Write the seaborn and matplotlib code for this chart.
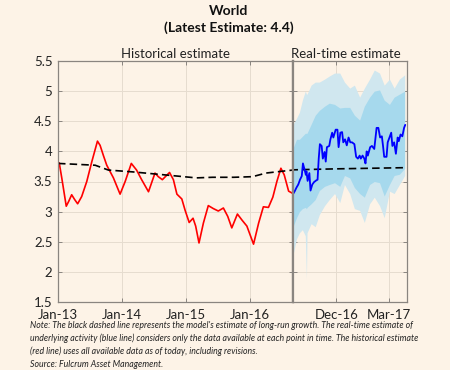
import pandas as pd
import matplotlib.pyplot as plt
import matplotlib.dates as mdates
import seaborn as sns

# Historical estimate (red line)
hist_dates = ['2013-01-01', '2013-01-08', '2013-01-23', '2013-02-17', '2013-03-03', '2013-03-20',
              '2013-04-06', '2013-04-23', '2013-05-16', '2013-06-14', '2013-07-12', '2013-08-14',
              '2013-08-29', '2013-09-17', '2013-10-06', '2013-11-13', '2013-12-21', '2014-01-19',
              '2014-02-23', '2014-03-25', '2014-04-23', '2014-06-01', '2014-07-08', '2014-07-27',
              '2014-08-19', '2014-09-29', '2014-10-21', '2014-11-10', '2014-12-08', '2014-12-27',
              '2015-01-19', '2015-02-10', '2015-02-25', '2015-03-16', '2015-04-10', '2015-05-08',
              '2015-06-06', '2015-07-04', '2015-08-02', '2015-08-27', '2015-09-19', '2015-10-21',
              '2015-11-16', '2015-12-14', '2016-01-21', '2016-02-19', '2016-03-17', '2016-04-15',
              '2016-05-10', '2016-06-02', '2016-06-25', '2016-07-14', '2016-08-08', '2016-09-02']
hist_values = [3.76, 3.81, 3.55, 3.09, 3.17, 3.28,
               3.20, 3.13, 3.25, 3.50, 3.82, 4.17,
               4.10, 3.93, 3.77, 3.56, 3.29, 3.50,
               3.80, 3.69, 3.53, 3.33, 3.64, 3.58,
               3.53, 3.65, 3.53, 3.29, 3.21, 3.02,
               2.82, 2.89, 2.76, 2.48, 2.81, 3.10,
               3.05, 3.01, 3.06, 2.92, 2.73, 2.96,
               2.86, 2.76, 2.46, 2.81, 3.08, 3.07,
               3.24, 3.50, 3.72, 3.61, 3.34, 3.30]

# Long-run growth (black dashed line)
trend_dates = ['2013-01-01', '2013-08-01', '2013-10-15', '2014-03-01', '2014-09-01', '2015-03-01',
               '2015-06-01', '2015-10-01', '2016-01-15', '2016-04-01', '2016-07-01', '2016-09-02',
               '2016-12-01', '2017-04-01']
trend_values = [3.80, 3.77, 3.69, 3.66, 3.61, 3.56,
                3.57, 3.57, 3.58, 3.64, 3.67, 3.69,
                3.71, 3.73]

# Real-time estimate (blue line)
rt_dates = ['2016-09-18', '2016-09-21', '2016-09-24', '2016-09-27', '2016-09-30', '2016-10-03',
            '2016-10-05', '2016-10-08', '2016-10-10', '2016-10-11', '2016-10-13', '2016-10-16',
            '2016-10-18', '2016-10-21', '2016-10-24', '2016-10-28', '2016-10-30', '2016-11-01',
            '2016-11-03', '2016-11-06', '2016-11-08', '2016-11-11', '2016-11-13', '2016-11-15',
            '2016-11-19', '2016-11-21', '2016-11-24', '2016-11-26', '2016-11-30', '2016-12-03',
            '2016-12-05', '2016-12-08', '2016-12-11', '2016-12-13', '2016-12-16', '2016-12-19',
            '2016-12-22', '2016-12-25', '2016-12-28', '2017-01-01', '2017-01-04', '2017-01-07',
            '2017-01-10', '2017-01-12', '2017-01-15', '2017-01-18', '2017-01-20', '2017-01-22',
            '2017-01-24', '2017-01-28', '2017-01-31', '2017-02-04', '2017-02-08', '2017-02-11',
            '2017-02-14', '2017-02-17', '2017-02-19', '2017-02-21', '2017-02-25', '2017-02-27',
            '2017-03-02', '2017-03-05', '2017-03-07', '2017-03-10', '2017-03-13', '2017-03-16',
            '2017-03-18', '2017-03-21', '2017-03-24', '2017-03-27', '2017-03-29']
rt_values = [3.29, 3.34, 3.40, 3.45, 3.53, 3.59,
             3.80, 3.69, 3.61, 3.67, 3.51, 3.64,
             3.35, 3.45, 3.49, 3.52, 3.53, 3.88,
             4.12, 4.09, 3.88, 3.99, 3.83, 4.07,
             4.09, 4.20, 4.31, 4.23, 4.36, 4.36,
             4.07, 4.31, 4.32, 4.15, 4.20, 4.10,
             4.23, 4.15, 4.15, 4.12, 3.91, 3.88,
             3.93, 3.88, 3.93, 3.88, 3.80, 4.00,
             3.93, 4.07, 4.09, 4.04, 4.39, 4.39,
             4.23, 4.25, 4.09, 3.91, 3.91, 4.15,
             4.23, 4.31, 4.09, 4.15, 3.96, 4.23,
             4.17, 4.28, 4.25, 4.39, 4.44]

# Uncertainty bands around the real-time estimate
band_dates = ['2016-09-18', '2016-09-24', '2016-09-29', '2016-10-04', '2016-10-09', '2016-10-11',
              '2016-10-12', '2016-10-19', '2016-10-26', '2016-11-02', '2016-11-11', '2016-11-19',
              '2016-11-28', '2016-12-07', '2016-12-15', '2016-12-24', '2017-01-01', '2017-01-10',
              '2017-01-18', '2017-01-27', '2017-02-04', '2017-02-13', '2017-02-21', '2017-03-02',
              '2017-03-10', '2017-03-19', '2017-03-28']
outer_hi = [4.45, 4.55, 4.65, 4.85, 5.00, 4.95, 4.95, 5.10, 5.15, 5.15, 5.20, 5.25, 5.30, 5.30,
            5.15, 5.05, 5.10, 4.90, 5.05, 5.20, 5.35, 5.30, 5.10, 5.20, 5.05, 5.20, 5.27]
outer_lo = [2.28, 2.55, 2.65, 2.70, 2.60, 1.88, 2.65, 2.80, 2.75, 2.95, 3.10, 3.20, 3.30, 3.15,
            3.45, 3.30, 3.05, 3.02, 2.82, 3.13, 3.24, 3.10, 2.90, 3.34, 3.30, 3.45, 3.60]
inner_hi = [4.05, 4.20, 4.20, 4.25, 4.30, 4.30, 4.30, 4.45, 4.60, 4.68, 4.75, 4.80, 4.78, 4.72,
            4.73, 4.73, 4.60, 4.52, 4.75, 4.90, 5.00, 5.02, 4.85, 4.78, 4.90, 4.95, 5.00]
inner_lo = [2.75, 2.90, 3.00, 3.05, 3.07, 3.05, 3.07, 3.13, 3.20, 3.35, 3.42, 3.45, 3.48, 3.42,
            3.60, 3.56, 3.40, 3.30, 3.24, 3.45, 3.50, 3.48, 3.26, 3.45, 3.60, 3.62, 3.72]

note_lines = [
    "Note: The black dashed line represents the model's estimate of long-run growth. The real-time estimate of",
    "underlying activity (blue line) considers only the data available at each point in time. The historical estimate",
    "(red line) uses all available data as of today, including revisions.",
    "Source: Fulcrum Asset Management.",
]

hist = pd.DataFrame({'date': pd.to_datetime(hist_dates), 'value': hist_values})
trend = pd.DataFrame({'date': pd.to_datetime(trend_dates), 'value': trend_values})
rt = pd.DataFrame({'date': pd.to_datetime(rt_dates), 'value': rt_values})
band = pd.DataFrame({'date': pd.to_datetime(band_dates), 'outer_hi': outer_hi, 'outer_lo': outer_lo,
                     'inner_hi': inner_hi, 'inner_lo': inner_lo})

bg = '#fdf3e7'
spine_col = '#8a8580'
grid_col = '#e6dccf'

sns.set_theme(style='ticks')
plt.rcParams['font.family'] = ['Lato', 'DejaVu Sans']

fig = plt.figure(figsize=(4.5, 3.7), dpi=100, facecolor=bg)
ax1 = fig.add_axes([58 / 450, 68 / 370, 235 / 450, 241 / 370])
ax2 = fig.add_axes([293 / 450, 68 / 370, 114 / 450, 241 / 370], sharey=ax1)

for ax in (ax1, ax2):
    ax.set_facecolor(bg)
    ax.grid(True, color=grid_col, linewidth=0.7)
    ax.set_axisbelow(True)
    for s in ax.spines.values():
        s.set_color(spine_col)
        s.set_linewidth(0.9)
    ax.tick_params(direction='in', length=3, width=0.7, color=spine_col,
                   top=True, right=True, labelsize=9.5, labelcolor='#222222')
    ax.tick_params(axis='x', pad=5)
    ax.tick_params(axis='y', pad=4)

ax1.spines['right'].set_linewidth(1.6)
ax2.spines['left'].set_linewidth(1.6)

# left panel: historical
sns.lineplot(data=hist, x='date', y='value', ax=ax1, color='#ff0000', linewidth=1.2)
sns.lineplot(data=trend, x='date', y='value', ax=ax1, color='black', linewidth=1.2,
             linestyle=(0, (4.5, 2.5)))

# right panel: real-time
ax2.fill_between(band['date'], band['outer_lo'], band['outer_hi'], color='#d0e7ef', linewidth=0)
ax2.fill_between(band['date'], band['inner_lo'], band['inner_hi'], color='#a6d9ed', linewidth=0)
sns.lineplot(data=trend, x='date', y='value', ax=ax2, color='black', linewidth=1.2,
             linestyle=(0, (4.5, 2.5)))
sns.lineplot(data=rt, x='date', y='value', ax=ax2, color='#0000ff', linewidth=1.3)

ax1.set_ylim(1.5, 5.5)
ax1.set_yticks([1.5, 2, 2.5, 3, 3.5, 4, 4.5, 5, 5.5])
ax1.set_yticklabels(['1.5', '2', '2.5', '3', '3.5', '4', '4.5', '5', '5.5'])
ax1.set_xlim(pd.Timestamp('2013-01-01'), pd.Timestamp('2016-09-02'))
ax1.set_xticks(pd.to_datetime(['2013-01-01', '2014-01-01', '2015-01-01', '2016-01-01']))
ax1.xaxis.set_major_formatter(mdates.DateFormatter('%b-%y'))

ax2.set_xlim(pd.Timestamp('2016-09-18'), pd.Timestamp('2017-04-01'))
ax2.set_xticks(pd.to_datetime(['2016-12-01', '2017-03-01']))
ax2.xaxis.set_major_formatter(mdates.DateFormatter('%b-%y'))
ax2.tick_params(labelleft=False)

for ax in (ax1, ax2):
    ax.set_xlabel('')
    ax.set_ylabel('')

ax1.set_title('Historical estimate', fontsize=9.5, pad=2, color='#222222')
ax2.set_title('Real-time estimate', fontsize=9.5, pad=2, color='#222222', x=0.46)

fig.text(0.508, 1 - 11 / 370, 'World', ha='center', va='center', fontsize=10,
         fontweight='bold', color='#111111')
fig.text(0.508, 1 - 28 / 370, '(Latest Estimate: 4.4)', ha='center', va='center', fontsize=10,
         fontweight='bold', color='#111111')

for i, line in enumerate(note_lines):
    fig.text(30 / 450, 1 - (325 + i * 13.3) / 370, line, ha='left', va='center', fontsize=6.3,
             style='italic', color='#222222')

fig.savefig('out.png', dpi=100, facecolor=bg)
